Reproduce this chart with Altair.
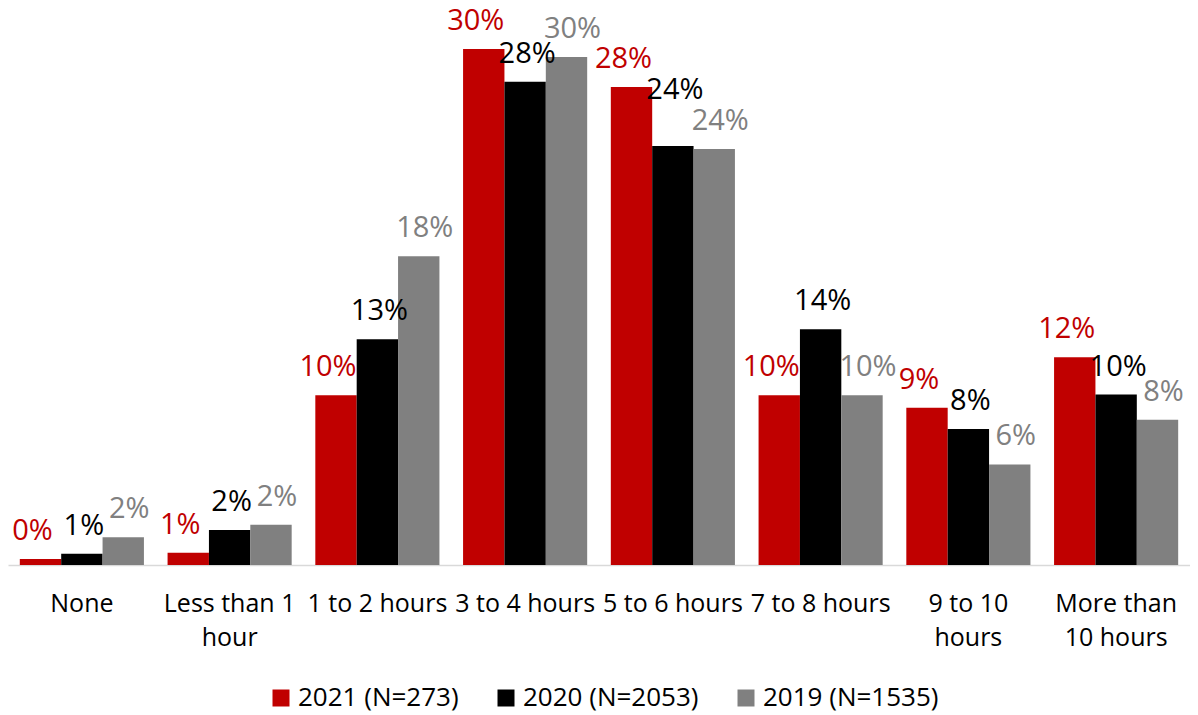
import altair as alt
import pandas as pd

categories = ["None", "Less than 1 hour", "1 to 2 hours", "3 to 4 hours",
              "5 to 6 hours", "7 to 8 hours", "9 to 10 hours", "More than 10 hours"]
series = ["2021 (N=273)", "2020 (N=2053)", "2019 (N=1535)"]
v2021 = [0.35, 0.72, 9.88, 30.02, 27.81, 9.87, 9.15, 12.09]
v2020 = [0.66, 2.03, 13.14, 28.12, 24.38, 13.72, 7.91, 9.92]
v2019 = [1.61, 2.34, 17.97, 29.55, 24.20, 9.87, 5.85, 8.45]
colors = ["#C00000", "#000000", "#808080"]

rows = []
for s, vals in zip(series, [v2021, v2020, v2019]):
    for c, v in zip(categories, vals):
        rows.append({"cat": c, "series": s, "value": v / 100})
df = pd.DataFrame(rows)

wrap = {
    "Less than 1 hour": ["Less than 1", "hour"],
    "9 to 10 hours": ["9 to 10", "hours"],
    "More than 10 hours": ["More than", "10 hours"],
}
expr = "datum.label"
for k, v in wrap.items():
    expr = f"datum.label == '{k}' ? ['{v[0]}', '{v[1]}'] : (" + expr + ")"

FONT = "Open Sans"

x = alt.X("cat:N", sort=categories, title=None,
          scale=alt.Scale(paddingInner=0.16, paddingOuter=0.08),
          axis=alt.Axis(labelAngle=0, labelFont=FONT, labelFontSize=25, labelColor="#000000",
                        labelLimit=400, ticks=False, domainColor="#D9D9D9", domainWidth=1.5,
                        labelPadding=26, labelLineHeight=34, labelBaseline="top",
                        labelExpr=expr))
xo = alt.XOffset("series:N", sort=series, scale=alt.Scale(paddingInner=0))
yscale = alt.Scale(domain=[0, 0.32])
y = alt.Y("value:Q", scale=yscale, axis=None)
color = alt.Color("series:N", sort=series,
                  scale=alt.Scale(domain=series, range=colors),
                  legend=alt.Legend(title=None, orient="none", direction="horizontal",
                                    legendX=260, legendY=670,
                                    symbolType="square", symbolSize=289, symbolStrokeWidth=0,
                                    labelFont=FONT, labelFontSize=26, labelColor="#000000",
                                    labelOffset=4, columnPadding=34, symbolOffset=0,
                                    labelLimit=400))

base = alt.Chart(df)
bars = base.mark_bar().encode(x=x, xOffset=xo, y=y, color=color)

# middle-series label is lifted when it sits level with its right neighbour
label_base = base.transform_pivot(
    "series", value="value", groupby=["cat"]
).transform_fold(
    series, as_=["series", "value"]
).transform_calculate(
    ly=f"datum.series == '{series[1]}' && abs(datum['{series[1]}'] - datum['{series[2]}']) < 0.0025"
       f" ? datum.value + 0.016 : datum.value"
)

dxs = [-8, 2, 6]
label_layers = []
for s, col, dx in zip(series, colors, dxs):
    label_layers.append(
        label_base.transform_filter(alt.datum.series == s).mark_text(
            baseline="alphabetic", dy=-19, dx=dx, font=FONT, fontSize=29, color=col
        ).encode(
            x=x, xOffset=xo,
            y=alt.Y("ly:Q", scale=yscale, axis=None),
            text=alt.Text("value:Q", format=".0%"),
        )
    )

chart = alt.layer(bars, *label_layers).properties(
    width=1182, height=550,
    autosize=alt.AutoSizeParams(type="none"),
    padding={"left": 0, "top": 7, "right": 0, "bottom": 150},
).configure_view(stroke=None)

chart.save("out.html", embed_options={"renderer": "svg", "actions": False})
